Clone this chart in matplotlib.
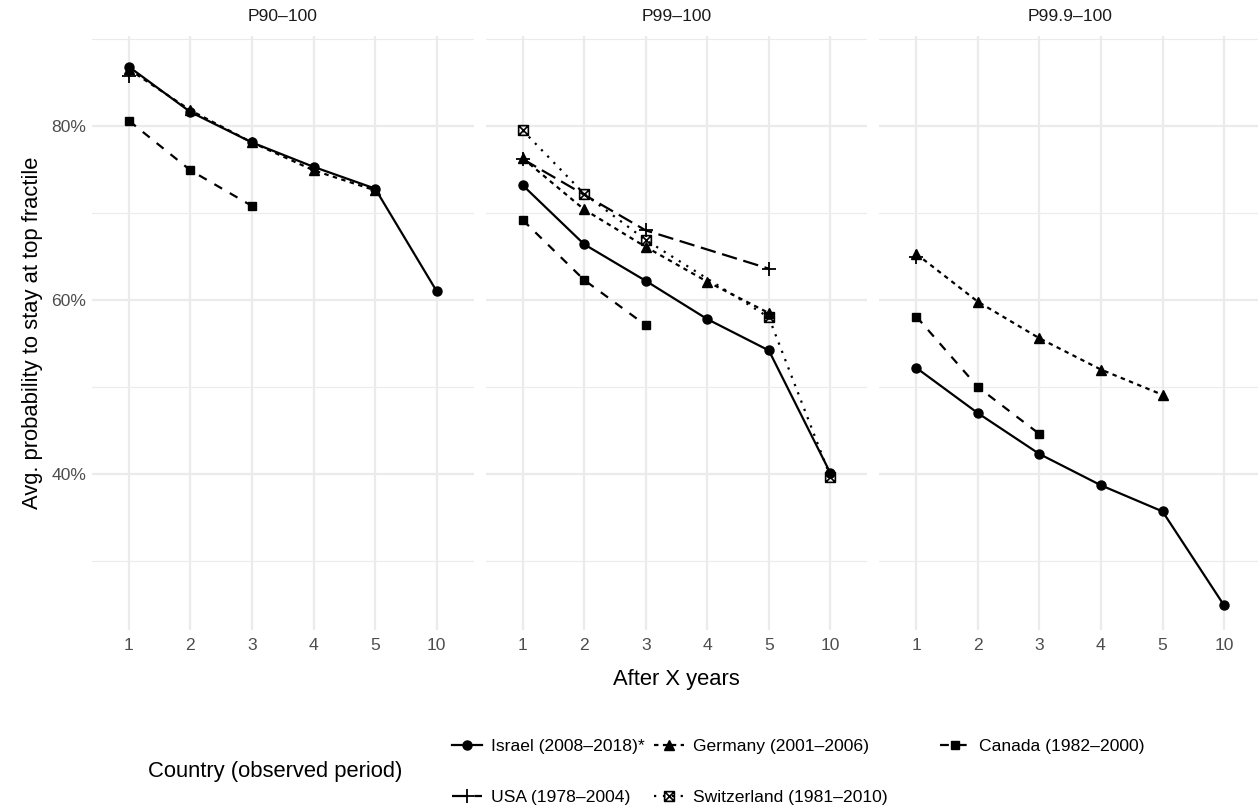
import numpy as np
import matplotlib.pyplot as plt
from matplotlib.path import Path

plt.rcParams['font.family'] = ['Liberation Sans', 'DejaVu Sans']

# x categories (after X years) and panel titles
years = ['1', '2', '3', '4', '5', '10']
fractiles = ['P90\u2013100', 'P99\u2013100', 'P99.9\u2013100']

# average probability (%) to stay in the top fractile, None = not observed
israel = [[86.8, 81.6, 78.1, 75.3, 72.8, 61.0],
          [73.2, 66.4, 62.2, 57.8, 54.2, 40.1],
          [52.2, 47.0, 42.3, 38.7, 35.7, 24.9]]
germany = [[86.5, 81.8, 78.1, 74.9, 72.6, None],
           [76.3, 70.4, 66.1, 62.1, 58.5, None],
           [65.3, 59.8, 55.6, 52.0, 49.1, None]]
canada = [[80.6, 74.9, 70.8, None, None, None],
          [69.2, 62.3, 57.1, None, None, None],
          [58.1, 50.0, 44.6, None, None, None]]
usa = [[85.7, None, None, None, None, None],
       [76.2, None, 68.0, None, 63.6, None],
       [64.9, None, None, None, None, None]]
switzerland = [[None, None, None, None, None, None],
               [79.5, 72.2, 66.9, None, 58.0, 39.7],
               [None, None, None, None, None, None]]

countries = ['Israel (2008\u20132018)*', 'Germany (2001\u20132006)', 'Canada (1982\u20132000)',
             'USA (1978\u20132004)', 'Switzerland (1981\u20132010)']
values = [israel, germany, canada, usa, switzerland]

# square with a cross inside (ggplot shape 7)
sq_cross = Path([(-1, -1), (1, -1), (1, 1), (-1, 1), (-1, -1), (-1, -1), (1, 1), (-1, 1), (1, -1)],
                [Path.MOVETO, Path.LINETO, Path.LINETO, Path.LINETO, Path.CLOSEPOLY,
                 Path.MOVETO, Path.LINETO, Path.MOVETO, Path.LINETO])

styles = [
    dict(ls='-', marker='o', ms=6.5),
    dict(ls=(0, (2, 2)), marker='^', ms=7.5),
    dict(ls=(0, (4, 4)), marker='s', ms=6),
    dict(ls=(0, (7, 3)), marker='+', ms=10, mew=1.3),
    dict(ls=(0, (1, 3)), marker=sq_cross, ms=7, mfc='none', mew=1.2),
]

fig, axes = plt.subplots(1, 3, figsize=(12.58, 8.08), dpi=100, sharey=True)
fig.subplots_adjust(left=92 / 1258, right=1261 / 1258, top=1 - 36 / 808,
                    bottom=1 - 630 / 808, wspace=12 / 381)

xpos = np.arange(len(years))
handles = []
for p, ax in enumerate(axes):
    for c, name in enumerate(countries):
        vals = values[c][p]
        xs = [xpos[i] for i, v in enumerate(vals) if v is not None]
        ys = [v for v in vals if v is not None]
        line, = ax.plot(xs, ys, color='black', lw=1.6, label=name, zorder=3, **styles[c])
        if p == 1:
            handles.append(line)
    ax.set_xlim(-0.6, len(years) - 0.4)
    ax.set_ylim(22.07, 90.34)
    ax.set_xticks(xpos)
    ax.set_xticklabels(years)
    ax.set_yticks([40, 60, 80])
    ax.set_yticks([30, 50, 70, 90], minor=True)
    ax.set_yticklabels(['40%', '60%', '80%'])
    ax.grid(True, which='major', color='#EBEBEB', lw=1.6, zorder=0)
    ax.grid(True, which='minor', axis='y', color='#EBEBEB', lw=0.8, zorder=0)
    ax.set_axisbelow(True)
    for s in ax.spines.values():
        s.set_visible(False)
    ax.tick_params(which='both', length=0, labelsize=12.6, labelcolor='#4D4D4D')
    ax.tick_params(axis='x', pad=6)
    ax.tick_params(axis='y', pad=4)
    ax.set_title(fractiles[p], fontsize=12.6, color='#1A1A1A', pad=11)

axes[0].set_ylabel('Avg. probability to stay at top fractile', fontsize=15.8, labelpad=6)
axes[1].set_xlabel('After X years', fontsize=15.8, labelpad=11)

# legend laid out like ggplot: two rows, one legend box per column
legend_cols = [[0, 3], [1, 4], [2]]
col_x = [452, 654, 940]
for idx, x0 in zip(legend_cols, col_x):
    fig.legend([handles[i] for i in idx], [countries[i] for i in idx],
               loc='upper left', bbox_to_anchor=(x0 / 1258, 1 - 739 / 808),
               frameon=False, fontsize=12.6, handlelength=1.7, handletextpad=0.55,
               labelspacing=2.05, borderpad=0, borderaxespad=0)
fig.text(148 / 1258, 1 - 771 / 808, 'Country (observed period)', fontsize=15.8, va='center')

fig.savefig('out.png', dpi=100, facecolor='white')
